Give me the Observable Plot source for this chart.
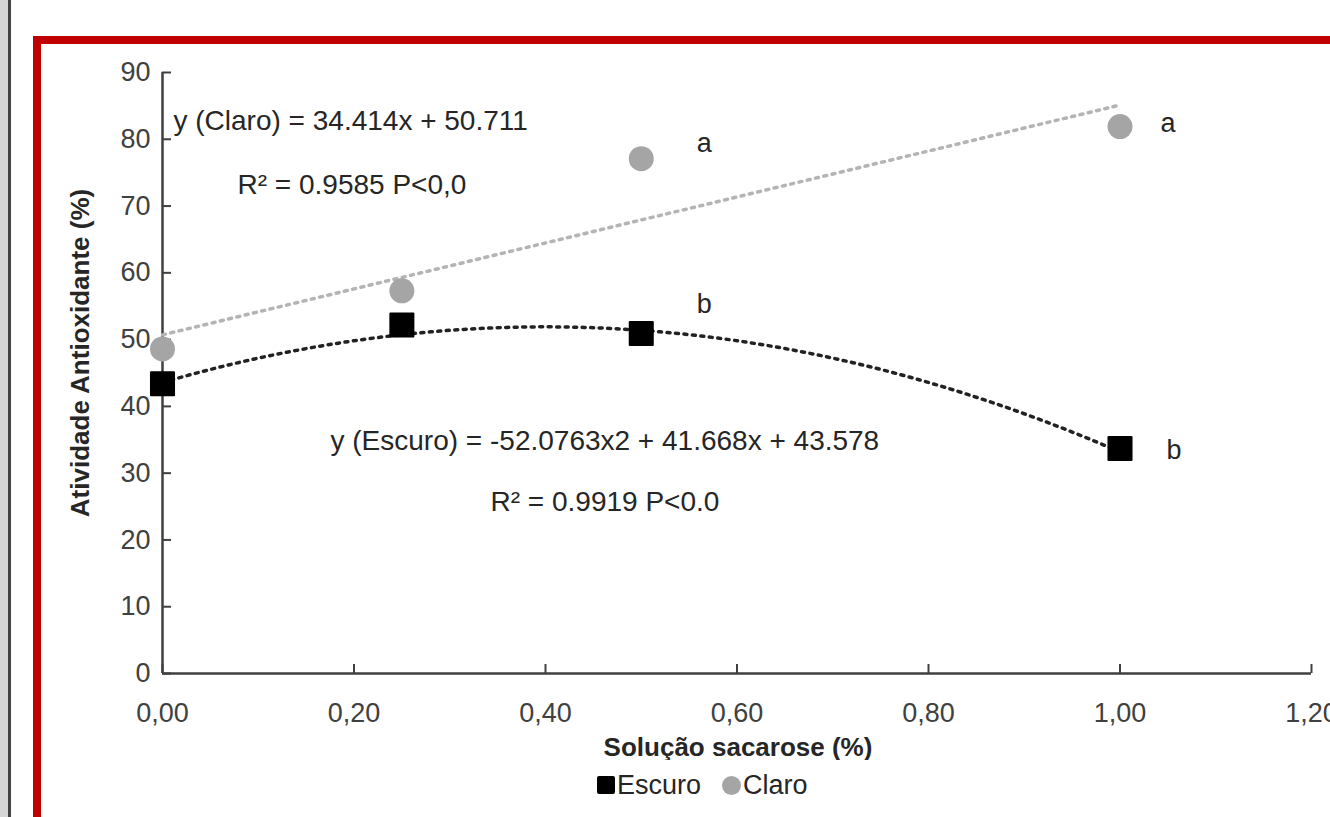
<!DOCTYPE html>
<html><head><meta charset="utf-8">
<script src="https://cdn.jsdelivr.net/npm/d3@7"></script>
<script src="https://cdn.jsdelivr.net/npm/@observablehq/plot@0.6"></script>
<style>
html,body{margin:0;padding:0;width:1330px;height:817px;overflow:hidden;background:#fff;font-family:"Liberation Sans",Arial,sans-serif;}
#strip{position:absolute;left:0;top:0;width:8px;height:817px;background:#d6d6d6;}
#strip2{position:absolute;left:8px;top:0;width:3px;height:817px;background:#444;}
#frame{position:absolute;left:33px;top:36px;width:1400px;height:900px;border:8px solid #c00000;box-sizing:border-box;}
#chart{position:absolute;left:0;top:0;}
#legend{position:absolute;top:771px;left:597px;display:flex;align-items:center;font-size:27px;color:#262626;line-height:28px;}
#legend .sq{width:18px;height:18px;background:#000;border-radius:2px;margin-right:2px;}
#legend .ci{width:19px;height:19px;background:#a5a5a5;border-radius:50%;margin-left:21px;margin-right:2px;}
</style></head>
<body>
<div id="strip"></div><div id="strip2"></div>
<div id="frame"></div>
<div id="chart"></div>
<div id="legend"><span class="sq"></span><span>Escuro</span><span class="ci"></span><span>Claro</span></div>
<script>
// ---- data ----
const doses = [0, 0.25, 0.5, 1.0];
const escuro = [43.4, 52.2, 50.9, 33.7];
const claro = [48.6, 57.3, 77.1, 81.9];
const claroLetters = ["", "", "a", "a"];
const escuroLetters = ["", "", "b", "b"];
const claroCoef = [50.711, 34.414];            // intercept, slope
const escuroCoef = [43.578, 41.668, -52.0763]; // c0, c1, c2
const xTicks = [0, 0.2, 0.4, 0.6, 0.8, 1.0, 1.2];
const yTicks = [0, 10, 20, 30, 40, 50, 60, 70, 80, 90];
const claroEq = "y (Claro) = 34.414x + 50.711";
const claroR2 = "R² = 0.9585 P<0,0";
const escuroEq = "y (Escuro) = -52.0763x2 + 41.668x + 43.578";
const escuroR2 = "R² = 0.9919 P<0.0";
const xTitle = "Solução sacarose (%)";
const yTitle = "Atividade Antioxidante (%)";
const legendNames = ["Escuro", "Claro"];

// ---- derived ----
const rows = doses.map((x, i) => ({x, escuro: escuro[i], claro: claro[i], lc: claroLetters[i], le: escuroLetters[i]}));
const xs = d3.range(0, 1.0001, 0.01);
const claroTrend = xs.map(x => ({x, y: claroCoef[0] + claroCoef[1] * x}));
const escuroTrend = xs.map(x => ({x, y: escuroCoef[0] + escuroCoef[1] * x + escuroCoef[2] * x * x}));

const W = 1330, H = 760, ML = 162, MR = 19, MT = 72, MB = 87;
const pw = W - ML - MR, ph = H - MT - MB;
const txt = "#262626", ax = "#404040";

const chart = Plot.plot({
  width: W, height: H,
  marginLeft: ML, marginRight: MR, marginTop: MT, marginBottom: MB,
  style: {background: "transparent", fontFamily: "'Liberation Sans', Arial, sans-serif", fontSize: "27px", color: "#404040"},
  x: {domain: [0, 1.2], label: null},
  y: {domain: [0, 90], label: null},
  marks: [
    Plot.axisY({ticks: yTicks, tickSize: 0, tickPadding: 12, fontSize: 27, fill: ax, label: null}),
    Plot.axisX({ticks: xTicks, tickSize: 0, tickPadding: 29, fontSize: 27, fill: ax, label: null,
      tickFormat: d => d.toFixed(2).replace(".", ",")}),
    Plot.tickY(yTicks, {y: d => d, insetRight: pw - 9, stroke: ax, strokeWidth: 2}),
    Plot.tickX(xTicks, {x: d => d, insetTop: ph - 9, stroke: ax, strokeWidth: 2}),
    Plot.ruleX([0], {stroke: ax, strokeWidth: 2.5}),
    Plot.ruleY([0], {stroke: ax, strokeWidth: 2.5}),
    Plot.line(claroTrend, {x: "x", y: "y", stroke: "#b4b4b4", strokeWidth: 3.5, strokeDasharray: "3,5.5"}),
    Plot.line(escuroTrend, {x: "x", y: "y", stroke: "#222", strokeWidth: 3.5, strokeDasharray: "3,5.5"}),
    Plot.dot(rows, {x: "x", y: "claro", r: 12.5, fill: "#a5a5a5"}),
    Plot.dot(rows, {x: "x", y: "escuro", symbol: "square", r: 13, fill: "#000", stroke: "#000", strokeWidth: 2, strokeLinejoin: "round"}),
    Plot.text([rows[2]], {x: "x", y: "claro", text: "lc", dx: 63, dy: -15, fontSize: 27, fill: txt}),
    Plot.text([rows[3]], {x: "x", y: "claro", text: "lc", dx: 48, dy: -3, fontSize: 27, fill: txt}),
    Plot.text([rows[2]], {x: "x", y: "escuro", text: "le", dx: 63, dy: -29, fontSize: 27, fill: txt}),
    Plot.text([rows[3]], {x: "x", y: "escuro", text: "le", dx: 54, dy: 2, fontSize: 27, fill: txt}),
    Plot.text([claroEq], {text: d => d, frameAnchor: "top-left", dx: 11, dy: 49, textAnchor: "start", lineAnchor: "middle", fontSize: 28, fill: txt}),
    Plot.text([claroR2], {text: d => d, frameAnchor: "top-left", dx: 75, dy: 113, textAnchor: "start", lineAnchor: "middle", fontSize: 28, fill: txt}),
    Plot.text([escuroEq], {text: d => d, frameAnchor: "top-left", dx: 168, dy: 369, textAnchor: "start", lineAnchor: "middle", fontSize: 28, fill: txt}),
    Plot.text([escuroR2], {text: d => d, frameAnchor: "top-left", dx: 328, dy: 430, textAnchor: "start", lineAnchor: "middle", fontSize: 28, fill: txt}),
    Plot.text([yTitle], {text: d => d, frameAnchor: "left", textAnchor: "middle", dx: -82, dy: -20, rotate: -90, fontSize: 26, fontWeight: "bold", fill: txt, style: "word-spacing:3px"}),
    Plot.text([xTitle], {text: d => d, frameAnchor: "bottom", textAnchor: "middle", dx: 1, dy: 82, fontSize: 26, fontWeight: "bold", fill: txt})
  ]
});
document.getElementById("chart").appendChild(chart);
const leg = document.querySelectorAll("#legend span:not(.sq):not(.ci)");
leg[0].textContent = legendNames[0]; leg[1].textContent = legendNames[1];
</script>
</body></html>
